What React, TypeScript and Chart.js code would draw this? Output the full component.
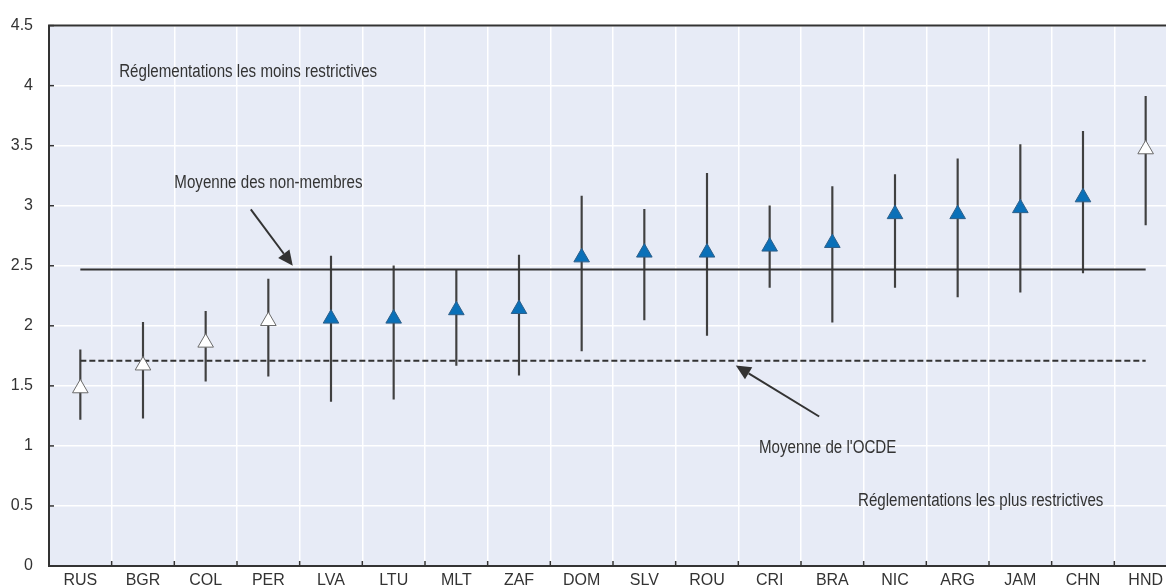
import React, { useEffect, useRef } from 'react';
import { Chart, registerables } from 'chart.js';

Chart.register(...registerables);

const categories = ['RUS', 'BGR', 'COL', 'PER', 'LVA', 'LTU', 'MLT', 'ZAF', 'DOM', 'SLV', 'ROU', 'CRI', 'BRA', 'NIC', 'ARG', 'JAM', 'CHN', 'HND'];
const scores = [1.48, 1.67, 1.86, 2.04, 2.06, 2.06, 2.13, 2.14, 2.57, 2.61, 2.61, 2.66, 2.69, 2.93, 2.93, 2.98, 3.07, 3.47];
const lowerBounds = [1.22, 1.23, 1.54, 1.58, 1.37, 1.39, 1.67, 1.59, 1.79, 2.05, 1.92, 2.32, 2.03, 2.32, 2.24, 2.28, 2.44, 2.84];
const upperBounds = [1.80, 2.03, 2.12, 2.39, 2.58, 2.50, 2.47, 2.59, 3.08, 2.97, 3.27, 3.00, 3.16, 3.26, 3.39, 3.51, 3.62, 3.91];
const hollowMarkers = [true, true, true, true, false, false, false, false, false, false, false, false, false, false, false, false, false, true];
const nonMemberAverage = 2.47;
const oecdAverage = 1.71;
const yMin = 0;
const yMax = 4.5;
const yStep = 0.5;

const notes = [
  { text: 'Réglementations les moins restrictives', x: 0.62, y: 4.11 },
  { text: 'Moyenne des non-membres', x: 1.5, y: 3.19 },
  { text: "Moyenne de l'OCDE", x: 10.83, y: 0.98 },
  { text: 'Réglementations les plus restrictives', x: 12.41, y: 0.54 },
];
const arrows = [
  { fromX: 2.72, fromY: 2.97, toX: 3.39, toY: 2.5 },
  { fromX: 11.79, fromY: 1.245, toX: 10.46, toY: 1.67 },
];

const FONT = '"Liberation Sans", Arial, Helvetica, sans-serif';
const W = 1190;
const H = 600;
const PLOT_LEFT = 49;
const PLOT_TOP = 23;
const PLOT_BOTTOM = 566;
const PLOT_RIGHT = 1177;
const BLUE = '#0a70b8';
const DARK = '#333333';

const decorPlugin = {
  id: 'decor',
  beforeDraw(chart: any) {
    const { ctx, chartArea } = chart;
    ctx.save();
    ctx.fillStyle = '#e7ebf6';
    ctx.fillRect(chartArea.left, chartArea.top, chartArea.right - chartArea.left, chartArea.bottom - chartArea.top);
    ctx.restore();
  },
  beforeDatasetsDraw(chart: any) {
    const { ctx, chartArea, scales } = chart;
    const { left, top, right, bottom } = chartArea;
    ctx.save();
    ctx.strokeStyle = DARK;
    ctx.lineWidth = 2;
    ctx.beginPath();
    ctx.moveTo(right, top);
    ctx.lineTo(left, top);
    ctx.lineTo(left, bottom);
    ctx.lineTo(right, bottom);
    ctx.stroke();
    ctx.lineWidth = 1.5;
    for (let v = yMin; v <= yMax + 1e-9; v += yStep) {
      const y = scales.y.getPixelForValue(v);
      ctx.beginPath();
      ctx.moveTo(left, y);
      ctx.lineTo(left + 5, y);
      ctx.stroke();
    }
    for (let i = 0; i <= categories.length; i++) {
      const x = scales.x.getPixelForValue(i - 0.5);
      ctx.beginPath();
      ctx.moveTo(x, bottom);
      ctx.lineTo(x, bottom - 5);
      ctx.stroke();
    }
    ctx.restore();
  },
  afterDatasetsDraw(chart: any) {
    const { ctx, scales } = chart;
    ctx.save();
    ctx.fillStyle = DARK;
    ctx.strokeStyle = DARK;
    ctx.font = `18px ${FONT}`;
    ctx.textAlign = 'left';
    ctx.textBaseline = 'middle';
    const sx = 0.84;
    for (const n of notes) {
      const px = scales.x.getPixelForValue(n.x);
      const py = scales.y.getPixelForValue(n.y);
      ctx.save();
      ctx.translate(px, py);
      ctx.scale(sx, 1);
      ctx.fillText(n.text, 0, 0);
      ctx.restore();
    }
    for (const a of arrows) {
      const x1 = scales.x.getPixelForValue(a.fromX);
      const y1 = scales.y.getPixelForValue(a.fromY);
      const x2 = scales.x.getPixelForValue(a.toX);
      const y2 = scales.y.getPixelForValue(a.toY);
      const ang = Math.atan2(y2 - y1, x2 - x1);
      const headLen = 15;
      const headHalf = 7;
      const bx = x2 - headLen * Math.cos(ang);
      const by = y2 - headLen * Math.sin(ang);
      ctx.lineWidth = 2;
      ctx.beginPath();
      ctx.moveTo(x1, y1);
      ctx.lineTo(bx, by);
      ctx.stroke();
      ctx.beginPath();
      ctx.moveTo(x2, y2);
      ctx.lineTo(bx + headHalf * Math.sin(ang), by - headHalf * Math.cos(ang));
      ctx.lineTo(bx - headHalf * Math.sin(ang), by + headHalf * Math.cos(ang));
      ctx.closePath();
      ctx.fill();
    }
    ctx.restore();
  },
};

export default function App() {
  const canvasRef = useRef<HTMLCanvasElement | null>(null);

  useEffect(() => {
    if (!canvasRef.current) return;
    const chart = new Chart(canvasRef.current, {
      type: 'bar',
      data: {
        labels: categories,
        datasets: [
          {
            type: 'line',
            label: 'Score',
            data: scores,
            showLine: false,
            pointStyle: 'triangle',
            pointRadius: 9,
            pointHoverRadius: 9,
            pointBackgroundColor: hollowMarkers.map((h) => (h ? '#ffffff' : BLUE)),
            pointBorderColor: hollowMarkers.map((h) => (h ? '#6b6b6b' : '#2d5f8a')),
            pointBorderWidth: 1,
            order: 0,
          } as any,
          {
            type: 'line',
            label: 'Moyenne des non-membres',
            data: [
              { x: categories[0], y: nonMemberAverage },
              { x: categories[categories.length - 1], y: nonMemberAverage },
            ],
            borderColor: DARK,
            borderWidth: 2,
            pointRadius: 0,
            order: 1,
          } as any,
          {
            type: 'line',
            label: "Moyenne de l'OCDE",
            data: [
              { x: categories[0], y: oecdAverage },
              { x: categories[categories.length - 1], y: oecdAverage },
            ],
            borderColor: DARK,
            borderWidth: 2,
            borderDash: [6, 3],
            pointRadius: 0,
            order: 1,
          } as any,
          {
            type: 'bar',
            label: 'Intervalle',
            data: categories.map((_, i) => [lowerBounds[i], upperBounds[i]]),
            backgroundColor: '#404040',
            borderWidth: 0,
            barThickness: 1.5,
            grouped: false,
            order: 2,
          } as any,
        ],
      },
      options: {
        responsive: false,
        animation: false,
        events: [],
        layout: { padding: { top: PLOT_TOP, right: W - PLOT_RIGHT, left: 0, bottom: 0 } },
        plugins: { legend: { display: false }, tooltip: { enabled: false } },
        scales: {
          x: {
            type: 'category',
            offset: true,
            grid: { offset: true, color: '#ffffff', lineWidth: 1.5, drawTicks: false },
            border: { display: false },
            ticks: { font: { family: FONT, size: 16 }, color: DARK, padding: 5, maxRotation: 0, autoSkip: false },
            afterFit: (s: any) => { s.height = H - PLOT_BOTTOM; },
          },
          y: {
            min: yMin,
            max: yMax,
            grid: { color: '#ffffff', lineWidth: 1.5, drawTicks: false },
            border: { display: false },
            ticks: { stepSize: yStep, font: { family: FONT, size: 16 }, color: DARK, padding: 16, callback: (v: any) => String(v) },
            afterFit: (s: any) => { s.width = PLOT_LEFT; },
          },
        },
      } as any,
      plugins: [decorPlugin],
    });
    return () => chart.destroy();
  }, []);

  return (
    <div style={{ position: 'absolute', left: 0, top: 0, width: 1166, height: 587, overflow: 'hidden', background: '#ffffff' }}>
      <canvas ref={canvasRef} width={W} height={H} style={{ width: W, height: H, display: 'block' }} />
    </div>
  );
}
